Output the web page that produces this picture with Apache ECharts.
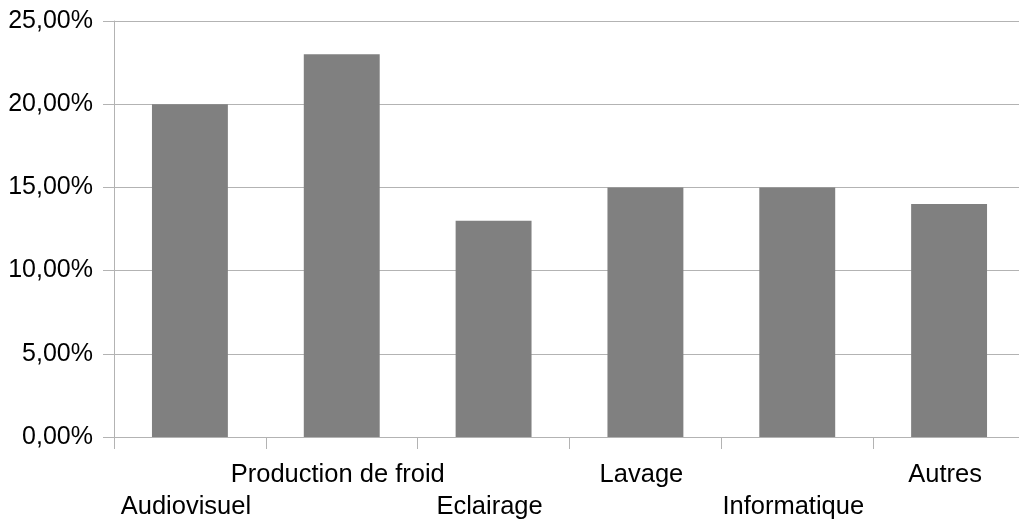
<!DOCTYPE html>
<html>
<head>
<meta charset="utf-8">
<script src="https://cdn.jsdelivr.net/npm/echarts@6/dist/echarts.min.js"></script>
<style>
html,body{margin:0;padding:0;background:#fff;overflow:hidden;}
#chart{width:1019px;height:519px;}
</style>
</head>
<body>
<div id="chart"></div>
<script>
const categories = ["Audiovisuel", "Production de froid", "Eclairage", "Lavage", "Informatique", "Autres"];
const values = [20, 23, 13, 15, 15, 14];
const yTicks = [0, 5, 10, 15, 20, 25];

const chart = echarts.init(document.getElementById('chart'));
const font = "'Liberation Sans', Arial, sans-serif";
chart.setOption({
  animation: false,
  backgroundColor: '#fff',
  grid: { left: 114, top: 21, width: 911, height: 416, containLabel: false, outerBoundsMode: 'none' },
  xAxis: {
    type: 'category',
    data: categories,
    axisLine: { lineStyle: { color: '#b3b3b3', width: 1 } },
    axisTick: { show: true, length: 12, lineStyle: { color: '#b3b3b3' } },
    axisLabel: {
      interval: 0,
      color: '#000',
      fontSize: 25.5,
      fontFamily: font,
      lineHeight: 32,
      margin: 22,
      padding: [0, 8, 0, 0],
      verticalAlign: 'top',
      formatter: function (v, i) { return i % 2 === 0 ? '\n' + v : v; }
    }
  },
  yAxis: {
    type: 'value',
    min: yTicks[0],
    max: yTicks[yTicks.length - 1],
    interval: 5,
    axisLine: { show: true, lineStyle: { color: '#b3b3b3', width: 1 } },
    axisTick: { show: true, length: 11, lineStyle: { color: '#b3b3b3' } },
    splitLine: { show: true, lineStyle: { color: '#b3b3b3', width: 1 } },
    axisLabel: {
      color: '#000',
      fontSize: 25,
      fontFamily: font,
      margin: 21,
      formatter: function (v) { return v.toFixed(2).replace('.', ',') + '%'; }
    }
  },
  series: [{
    type: 'bar',
    data: values,
    barWidth: '50%',
    itemStyle: { color: '#808080' }
  }]
});
</script>
</body>
</html>
